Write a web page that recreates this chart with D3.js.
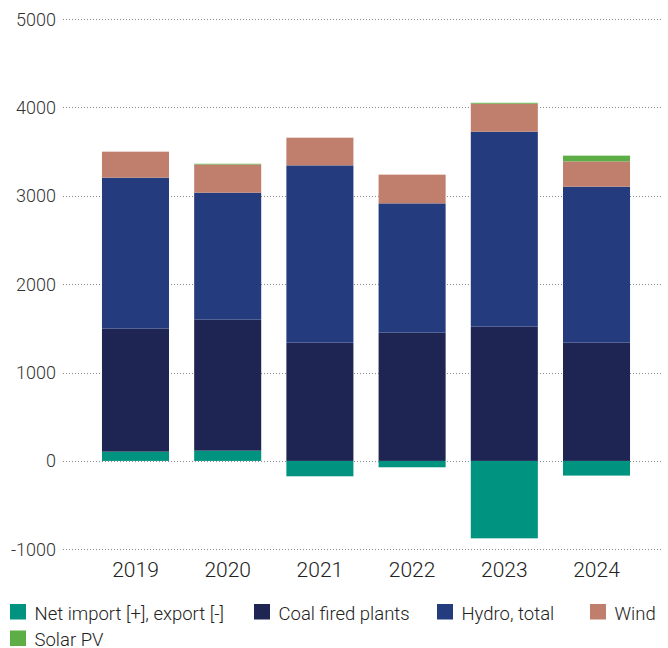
<!DOCTYPE html>
<html>
<head>
<meta charset="utf-8">
<script src="https://cdn.jsdelivr.net/npm/d3@7"></script>
<style>
  html, body { margin: 0; padding: 0; background: #fff; }
  svg { display: block; font-family: Roboto, "Noto Sans", sans-serif; }
</style>
</head>
<body>
<svg id="chart" width="668" height="648"></svg>
<script>
// Electricity supply by source (GWh), stacked per year
const years = ["2019", "2020", "2021", "2022", "2023", "2024"];
const netImport = [105, 116, -174, -72, -876, -166];
const coal      = [1392, 1482, 1338, 1451, 1519, 1338];
const hydro     = [1708, 1437, 2006, 1463, 2206, 1765];
const wind      = [294, 319, 313, 325, 317, 286];
const solar     = [0, 8, 0, 0, 10, 65];
const yTicks    = [-1000, 0, 1000, 2000, 3000, 4000, 5000];

const seriesNames  = ["Net import [+], export [-]", "Coal fired plants", "Hydro, total", "Wind", "Solar PV"];
const seriesValues = [netImport, coal, hydro, wind, solar];
const colors       = ["#00937F", "#1F2552", "#243B7E", "#C07E6C", "#5DAE47"];

const svg = d3.select("#chart");

const y = d3.scaleLinear().domain([-1000, 5000]).range([549.3, 19]);
const x = d3.scaleBand().domain(years).range([76.8, 655.2]).padding(0.273);

// dotted gridlines with value labels
const grid = svg.append("g");
grid.selectAll("line").data(yTicks).join("line")
  .attr("x1", 63).attr("x2", 662)
  .attr("y1", d => Math.round(y(d)) + 0.5).attr("y2", d => Math.round(y(d)) + 0.5)
  .attr("stroke", "#8a8a8a").attr("stroke-width", 1)
  .attr("stroke-dasharray", "1,2");
grid.selectAll("text").data(yTicks).join("text")
  .attr("x", 56).attr("y", d => y(d) + 6.5)
  .attr("text-anchor", "end")
  .attr("font-size", 18).attr("font-weight", 300).attr("fill", "#333")
  .text(d => d);

// stack: positive values go up from zero, negative values go down
const bars = svg.append("g");
years.forEach((yr, i) => {
  let pos = 0, neg = 0;
  seriesValues.forEach((vals, s) => {
    const v = vals[i];
    if (!v) return;
    let y0, y1;
    if (v >= 0) { y0 = pos; y1 = pos + v; pos = y1; }
    else { y0 = neg + v; y1 = neg; neg = y0; }
    bars.append("rect")
      .attr("x", x(yr)).attr("width", x.bandwidth())
      .attr("y", y(y1)).attr("height", Math.max(0, y(y0) - y(y1)))
      .attr("fill", colors[s]);
  });
});

// year labels
svg.append("g").selectAll("text").data(years).join("text")
  .attr("x", d => x(d) + x.bandwidth() / 2).attr("y", 577)
  .attr("text-anchor", "middle")
  .attr("font-size", 21).attr("font-weight", 300).attr("fill", "#222")
  .text(d => d);

// legend: two rows
const legendPos = [[10, 620], [254, 620], [437, 620], [590, 620], [10, 646.5]];
const legend = svg.append("g");
seriesNames.forEach((name, i) => {
  const [lx, ly] = legendPos[i];
  legend.append("rect")
    .attr("x", lx).attr("y", ly - 16).attr("width", 16).attr("height", 15.5)
    .attr("fill", colors[i]);
  legend.append("text")
    .attr("x", lx + 24.5).attr("y", ly - 0.5)
    .attr("font-size", 18.5).attr("font-weight", 300).attr("fill", "#222")
    .text(name);
});
</script>
</body>
</html>
